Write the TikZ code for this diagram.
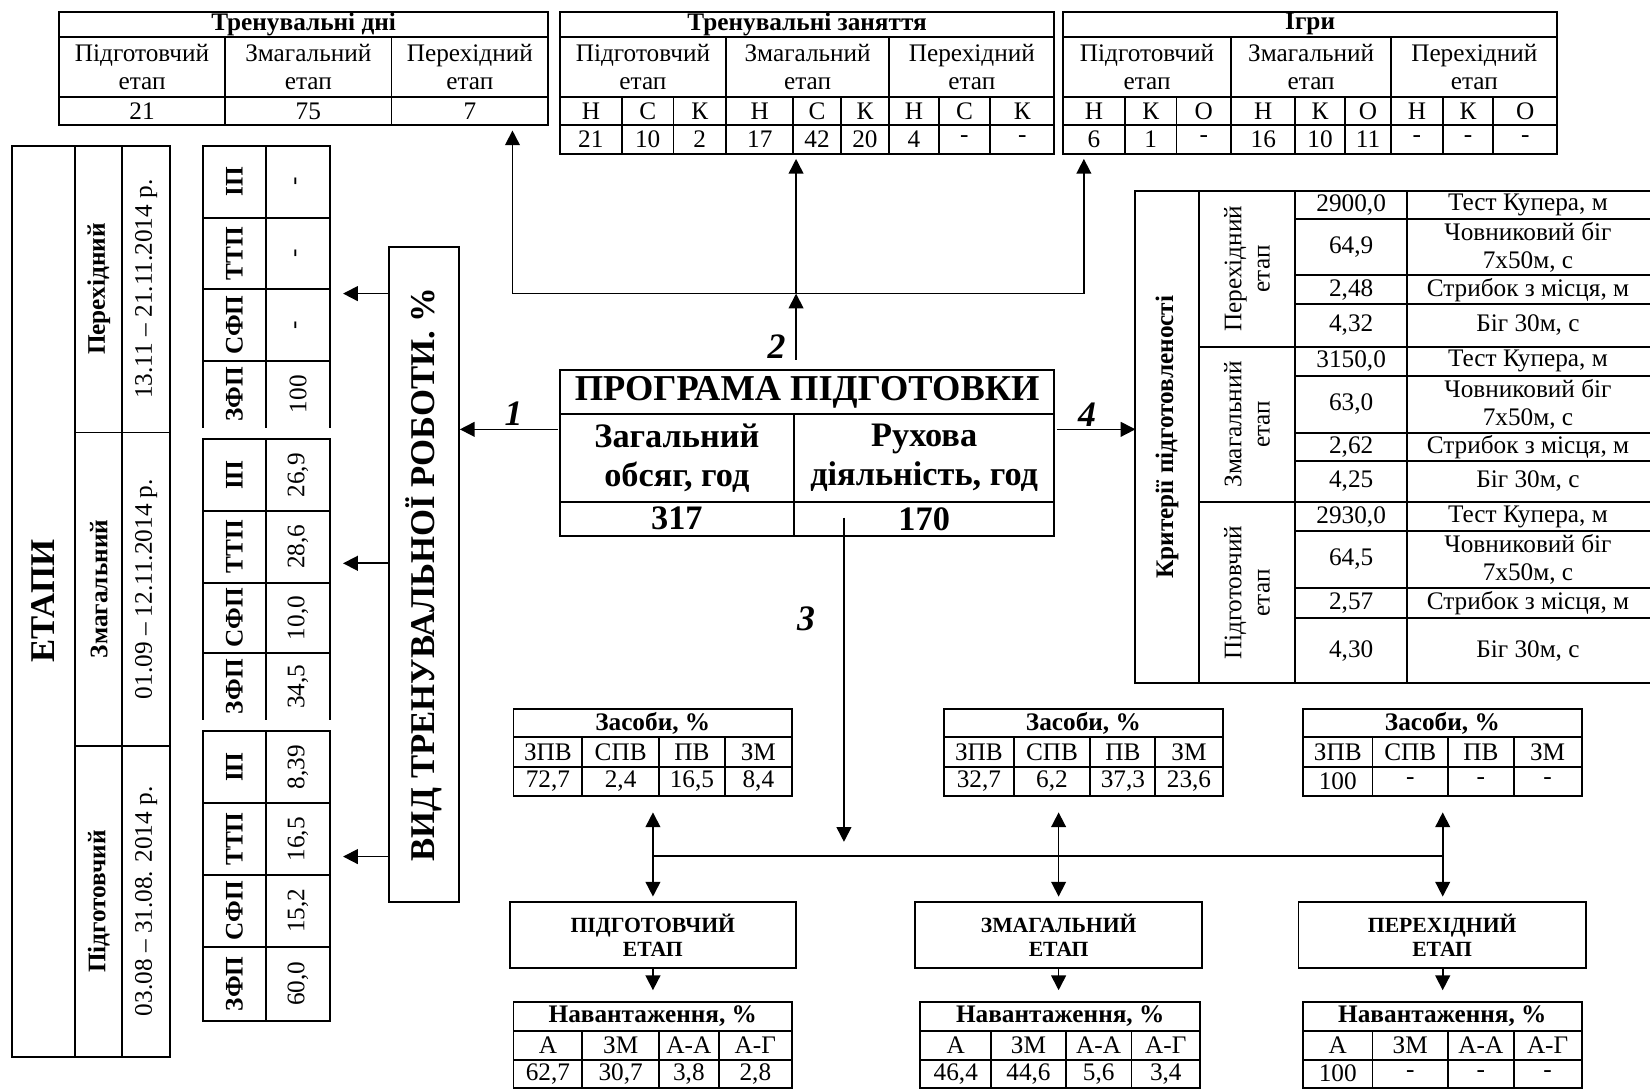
\documentclass[tikz,border=0pt]{standalone}
\usepackage{fontspec}
\setmainfont{Liberation Serif}
\usetikzlibrary{arrows.meta}
\tikzset{
  tbl/.style={line width=0.9pt},
  txt/.style={font=\fontsize{12}{13.5}\selectfont, align=center, inner sep=0pt},
  btxt/.style={txt, font=\fontsize{12}{13.5}\selectfont\bfseries},
  hb/.style={txt, font=\fontsize{16.3}{18.5}\selectfont\bfseries},
  hbh/.style={txt, font=\fontsize{17.3}{19}\selectfont\bfseries},
  big/.style={txt, font=\fontsize{16.5}{19}\selectfont\bfseries},
  stg/.style={txt, font=\fontsize{10.3}{11.5}\selectfont\bfseries},
  num/.style={font=\fontsize{17}{17}\selectfont\bfseries\itshape, inner sep=0pt},
  ln/.style={line width=0.8pt},
  arr/.style={line width=0.8pt, -{Triangle[length=7pt,width=7pt]}},
  darr/.style={line width=0.8pt, {Triangle[length=7pt,width=7pt]}-{Triangle[length=7pt,width=7pt]}},
}
\newcommand\Cell[7][txt]{\draw[tbl] (#3,#4) rectangle (#5,#6); \node[#1] (#2) at ({(#3+#5)/2},{(#4+#6)/2}) {#7};}
\begin{document}
\begin{tikzpicture}[x=0.5pt,y=-0.5pt]
\useasboundingbox (0,0) rectangle (1568,1035);

% ---------- Top table 1
\Cell[btxt]{t1h}{56}{11}{521}{35}{Тренувальні дні}
\foreach \a/\b/\t/\v [count=\i] in {56/214/Підготовчий/21, 214/372/Змагальний/75, 372/521/Перехідний/7} {
  \Cell{t1l\i}{\a}{35}{\b}{92}{\t\\етап}
  \Cell{t1v\i}{\a}{92}{\b}{119}{\v}
}
% ---------- Top table 2
\Cell[btxt]{t2h}{532}{11}{1002}{35}{Тренувальні заняття}
\foreach \a/\b/\t [count=\i] in {532/690/Підготовчий, 690/845/Змагальний, 845/1002/Перехідний} {
  \Cell{t2l\i}{\a}{35}{\b}{92}{\t\\етап}
}
\foreach \a/\b/\t/\v [count=\i] in {532/591/Н/21, 591/640/С/10, 640/690/К/2, 690/754/Н/17, 754/799/С/42, 799/845/К/20, 845/892/Н/4, 892/941/С/-, 941/1002/К/-} {
  \Cell{t2s\i}{\a}{92}{\b}{119}{\t}
  \Cell{t2v\i}{\a}{119}{\b}{146}{\v}
}
% ---------- Top table 3
\Cell[btxt]{t3h}{1010}{11}{1480}{35}{Ігри}
\foreach \a/\b/\t [count=\i] in {1010/1170/Підготовчий, 1170/1322/Змагальний, 1322/1480/Перехідний} {
  \Cell{t3l\i}{\a}{35}{\b}{92}{\t\\етап}
}
\foreach \a/\b/\t/\v [count=\i] in {1010/1069/Н/6, 1069/1118/К/1, 1118/1170/О/-, 1170/1231/Н/16, 1231/1278/К/10, 1278/1322/О/11, 1322/1371/Н/-, 1371/1419/К/-, 1419/1480/О/-} {
  \Cell{t3s\i}{\a}{92}{\b}{119}{\t}
  \Cell{t3v\i}{\a}{119}{\b}{146}{\v}
}

% ---------- Central box
\Cell[hbh]{ph}{532}{352}{1002}{393}{ПРОГРАМА ПІДГОТОВКИ}
\Cell[hb]{pz}{532}{393}{754.5}{477}{Загальний\\обсяг, год}
\Cell[hb]{pr}{754.5}{393}{1002}{477}{Рухова\\діяльність, год}
\Cell[hb]{pv1}{532}{477}{754.5}{509}{317}
\Cell[hb]{pv2}{754.5}{477}{1002}{509}{170}

% ---------- connectors to top tables
\coordinate (hL) at (487,279);
\coordinate (hM) at (756.5,279);
\coordinate (hR) at (1030,279);
\coordinate (t1bot) at (487,124);
\coordinate (t2bot) at (756.5,151);
\coordinate (t3bot) at (1030,151);
\coordinate (a2s) at (756.5,342);
\draw[ln] (hL) -- (hR);
\draw[arr] (hL) -- (t1bot);
\draw[arr] (hM) -- (t2bot);
\draw[arr] (hR) -- (t3bot);
\draw[arr] (a2s) -- (hM);
\node[num] (n2) at (738,329) {2};

% ---------- ETAPY table
\Cell[big,rotate=90]{etapy}{11}{138.4}{71.3}{1004.5}{ЕТАПИ}
\Cell[btxt,rotate=90]{sn1}{71.3}{138.4}{116.3}{411}{Перехідний}
\Cell[btxt,rotate=90]{sn2}{71.3}{411}{116.3}{708.6}{Змагальний}
\Cell[btxt,rotate=90]{sn3}{71.3}{708.6}{116.3}{1004.5}{Підготовчий}
\Cell[txt,rotate=90]{sd1}{116.3}{138.4}{161.5}{411}{13.11 – 21.11.2014 р.}
\Cell[txt,rotate=90]{sd2}{116.3}{411}{161.5}{708.6}{01.09 – 12.11.2014 р.}
\Cell[txt,rotate=90]{sd3}{116.3}{708.6}{161.5}{1004.5}{03.08 – 31.08. 2014 р.}

% ---------- small tables
\foreach \ya/\yb/\l/\v [count=\i] in {138.4/206.9/ІП/-, 206.9/275/ТТП/-, 275/343/СФП/-, 343/406.4/ЗФП/100} {
  \node[btxt,rotate=90] (sa\i) at (222.7,{(\ya+\yb)/2}) {\l};
  \node[txt,rotate=90] (sav\i) at (283.2,{(\ya+\yb)/2}) {\v};
}
\draw[tbl] (192.6,406.4) -- (192.6,138.4) -- (313.6,138.4) -- (313.6,406.4);
\draw[tbl] (252.8,138.4) -- (252.8,406.4);
\foreach \y in {206.9,275,343} \draw[tbl] (192.6,\y) -- (313.6,\y);

\foreach \ya/\yb/\l/\v [count=\i] in {417.5/485.6/ІП/{26,9}, 485.6/553.7/ТТП/{28,6}, 553.7/620.9/СФП/{10,0}, 620.9/684.2/ЗФП/{34,5}} {
  \node[btxt,rotate=90] (sb\i) at (222.7,{(\ya+\yb)/2}) {\l};
  \node[txt,rotate=90] (sbv\i) at (283.2,{(\ya+\yb)/2}) {\v};
}
\draw[tbl] (192.6,684.2) -- (192.6,417.5) -- (313.6,417.5) -- (313.6,684.2);
\draw[tbl] (252.8,417.5) -- (252.8,684.2);
\foreach \y in {485.6,553.7,620.9} \draw[tbl] (192.6,\y) -- (313.6,\y);

\foreach \ya/\yb/\l/\v [count=\i] in {694.7/763.4/ІП/{8,39}, 763.4/831.5/ТТП/{16,5}, 831.5/899.6/СФП/{15,2}, 899.6/970/ЗФП/{60,0}} {
  \node[btxt,rotate=90] (sc\i) at (222.7,{(\ya+\yb)/2}) {\l};
  \node[txt,rotate=90] (scv\i) at (283.2,{(\ya+\yb)/2}) {\v};
}
\draw[tbl] (192.6,694.7) rectangle (313.6,970);
\draw[tbl] (252.8,694.7) -- (252.8,970);
\foreach \y in {763.4,831.5,899.6} \draw[tbl] (192.6,\y) -- (313.6,\y);

% ---------- VID box
\draw[tbl] (370,235) rectangle (436,857);
\node[big,rotate=90] (vid) at (403,546) {ВИД ТРЕНУВАЛЬНОЇ РОБОТИ. \%};
\coordinate (v1) at (370,279);  \coordinate (w1) at (326,279);
\coordinate (v2) at (370,535.3);\coordinate (w2) at (326,535.3);
\coordinate (v3) at (370,814);  \coordinate (w3) at (326,814);
\draw[arr] (v1) -- (w1);
\draw[arr] (v2) -- (w2);
\draw[arr] (v3) -- (w3);

% ---------- arrow 1 and 4
\coordinate (a1s) at (530,408); \coordinate (a1e) at (437,408);
\draw[arr] (a1s) -- (a1e);
\node[num] (n1) at (488,393) {1};
\coordinate (a4s) at (1004,408); \coordinate (a4e) at (1079,408);
\draw[arr] (a4s) -- (a4e);
\node[num] (n4) at (1033,394) {4};

% ---------- criteria table
\Cell[btxt,rotate=90]{kr}{1079}{181.5}{1139}{649.4}{Критерії підготовленості}
\Cell[txt,rotate=90]{ks1}{1139}{181.5}{1231}{329.4}{Перехідний\\етап}
\Cell[txt,rotate=90]{ks2}{1139}{329.4}{1231}{477.4}{Змагальний\\етап}
\Cell[txt,rotate=90]{ks3}{1139}{477.4}{1231}{649.4}{Підготовчий\\етап}
\foreach \ya/\yb/\v/\t [count=\i] in {
  181.5/208.4/{2900,0}/{Тест Купера, м},
  208.4/261.3/{64,9}/{Човниковий біг\\7х50м, с},
  261.3/289.2/{2,48}/{Стрибок з місця, м},
  289.2/329.4/{4,32}/{Біг 30м, с},
  329.4/357/{3150,0}/{Тест Купера, м},
  357/411.2/{63,0}/{Човниковий біг\\7х50м, с},
  411.2/437.8/{2,62}/{Стрибок з місця, м},
  437.8/477.4/{4,25}/{Біг 30м, с},
  477.4/504.6/{2930,0}/{Тест Купера, м},
  504.6/558.5/{64,5}/{Човниковий біг\\7х50м, с},
  558.5/587/{2,57}/{Стрибок з місця, м},
  587/649.4/{4,30}/{Біг 30м, с}} {
  \Cell{kv\i}{1231}{\ya}{1337}{\yb}{\v}
  \draw[tbl] (1337,\ya) -- (1570,\ya) (1337,\yb) -- (1570,\yb);
  \node[txt] (kt\i) at (1452,{(\ya+\yb)/2}) {\t};
}

% ---------- arrow 3 and stage connectors
\coordinate (a3s) at (802,492); \coordinate (a3e) at (802,800);
\draw[arr] (a3s) -- (a3e);
\node[num] (n3) at (766,588) {3};
\coordinate (bL) at (620.5,813.5);
\coordinate (bM) at (1006,813.5);
\coordinate (bR) at (1371,813.5);
\draw[ln] (bL) -- (bR);
\foreach \x/\n in {620.5/A, 1006/B, 1371/C} {
  \coordinate (zu\n) at (\x,772);
  \coordinate (zd\n) at (\x,852);
  \coordinate (sb\n) at (\x,920);
  \coordinate (nt\n) at (\x,941);
  \draw[darr] (zu\n) -- (zd\n);
  \draw[arr] (sb\n) -- (nt\n);
}

% ---------- Zasoby tables
\foreach \xa/\xb/\n in {488/752.6/A, 897.3/1161.8/B, 1238.3/1503/C} {
  \Cell[btxt]{zh\n}{\xa}{674}{\xb}{700.7}{Засоби, \%}
}
\foreach \a/\b/\t/\v [count=\i] in {488/553.3/ЗПВ/{72,7}, 553.3/626.3/СПВ/{2,4}, 626.3/688.8/ПВ/{16,5}, 688.8/752.6/ЗМ/{8,4},
  897.3/963.2/ЗПВ/{32,7}, 963.2/1036.2/СПВ/{6,2}, 1036.2/1098/ПВ/{37,3}, 1098/1161.8/ЗМ/{23,6},
  1238.3/1304.3/ЗПВ/100, 1304.3/1376/СПВ/-, 1376/1438.4/ПВ/-, 1438.4/1503/ЗМ/-} {
  \Cell{zc\i}{\a}{700.7}{\b}{728.6}{\t}
  \Cell{zv\i}{\a}{728.6}{\b}{756.4}{\v}
}

% ---------- Stage boxes
\Cell[stg]{stA}{484.5}{857}{756.2}{920}{ПІДГОТОВЧИЙ\\ЕТАП}
\Cell[stg]{stB}{869.5}{857}{1142.6}{920}{ЗМАГАЛЬНИЙ\\ЕТАП}
\Cell[stg]{stC}{1234}{857}{1507}{920}{ПЕРЕХІДНИЙ\\ЕТАП}

% ---------- Navantazhennia tables
\foreach \xa/\xb/\n in {488/752.6/A, 874.6/1140.4/B, 1238.3/1503/C} {
  \Cell[btxt]{nh\n}{\xa}{952}{\xb}{980}{Навантаження, \%}
}
\foreach \a/\b/\t/\v [count=\i] in {488/553.3/А/{62,7}, 553.3/626.3/ЗМ/{30,7}, 626.3/683/А-А/{3,8}, 683/752.6/А-Г/{2,8},
  874.6/942/А/{46,4}, 942/1012.8/ЗМ/{44,6}, 1012.8/1075.3/А-А/{5,6}, 1075.3/1140.4/А-Г/{3,4},
  1238.3/1304.3/А/100, 1304.3/1376/ЗМ/-, 1376/1438.4/А-А/-, 1438.4/1503/А-Г/-} {
  \Cell{nc\i}{\a}{980}{\b}{1007}{\t}
  \Cell{nv\i}{\a}{1007}{\b}{1033.5}{\v}
}
\end{tikzpicture}
\end{document}
